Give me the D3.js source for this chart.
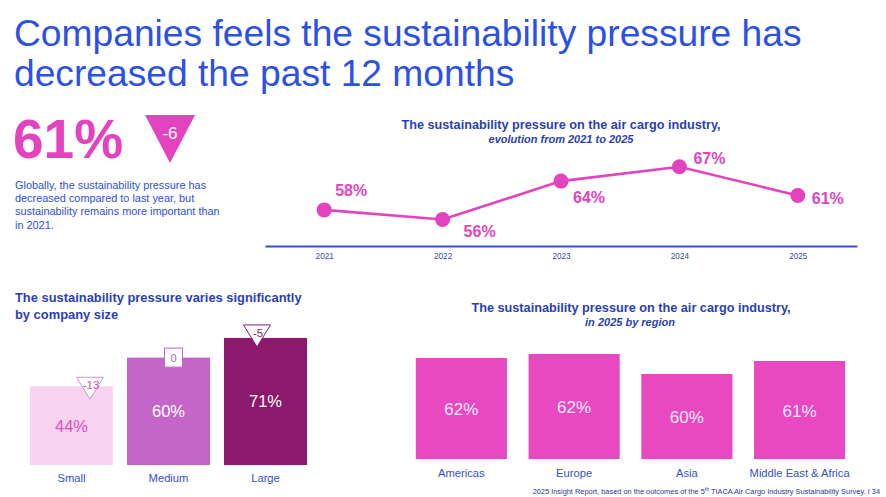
<!DOCTYPE html>
<html>
<head>
<meta charset="utf-8">
<script src="https://cdn.jsdelivr.net/npm/d3@7"></script>
<style>
  html, body { margin: 0; padding: 0; background: #ffffff; }
  svg { display: block; font-family: "Liberation Sans", Arial, Helvetica, sans-serif; }
</style>
</head>
<body>
<svg id="chart" width="886" height="497"></svg>
<script>
// ---------- DATA ----------
const titleLines = ["Companies feels the sustainability pressure has", "decreased the past 12 months"];
const headlineValue = 61;
const headlineChange = -6;
const headlineText = [
  "Globally, the sustainability pressure has",
  "decreased compared to last year, but",
  "sustainability remains more important than",
  "in 2021."
];

const years = ["2021", "2022", "2023", "2024", "2025"];
const pressureByYear = [58, 56, 64, 67, 61];

const sizeCategories = ["Small", "Medium", "Large"];
const sizeValues = [44, 60, 71];
const sizeChanges = [-13, 0, -5];

const regions = ["Americas", "Europe", "Asia", "Middle East & Africa"];
const regionValues = [61.6, 62.0, 60.0, 61.3];

// ---------- STYLE ----------
const BLUE = "#2d50e6";
const NAVY = "#2b3fb6";
const PINK = "#e443bf";
const sizeColors = ["#f8d4f1", "#c466c9", "#8b1a6c"];
const sizeLabelColors = ["#e04fb8", "#ffffff", "#ffffff"];
const badgeColors = ["#d34fb3", "#b463bd", "#8b1a6c"];
const badgeStroke = ["#c89ad3", "#c466c9", "#8b1a6c"];

const svg = d3.select("#chart");
svg.append("rect").attr("width", 886).attr("height", 497).attr("fill", "#fff");

// ---------- MAIN TITLE ----------
svg.append("g").selectAll("text").data(titleLines).join("text")
  .attr("x", 14).attr("y", (d, i) => 46 + i * 39.5)
  .attr("fill", BLUE).attr("font-size", 37.2).text(d => d);

// ---------- HEADLINE ----------
svg.append("text").attr("x", 13).attr("y", 158)
  .attr("fill", PINK).attr("font-size", 55).attr("font-weight", "bold")
  .text(headlineValue + "%");

const tri = d3.path();
tri.moveTo(145, 115); tri.lineTo(195, 115); tri.lineTo(170, 163); tri.closePath();
svg.append("path").attr("d", tri.toString()).attr("fill", PINK);
svg.append("text").attr("x", 170).attr("y", 139).attr("text-anchor", "middle")
  .attr("fill", "#fff").attr("font-size", 17).text(headlineChange);

svg.append("g").selectAll("text").data(headlineText).join("text")
  .attr("x", 15).attr("y", (d, i) => 189 + i * 13.2)
  .attr("fill", BLUE).attr("font-size", 10.9).text(d => d);

// ---------- LINE CHART ----------
const xL = d3.scalePoint().domain(years).range([265, 857]).padding(0.5);
const yL = d3.scaleLinear().domain([50, 70]).range([248.3, 152.3]);

svg.append("text").attr("x", 561).attr("y", 129).attr("text-anchor", "middle")
  .attr("fill", NAVY).attr("font-size", 12.7).attr("font-weight", "bold")
  .text("The sustainability pressure on the air cargo industry,");
svg.append("text").attr("x", 561).attr("y", 143).attr("text-anchor", "middle")
  .attr("fill", NAVY).attr("font-size", 11).attr("font-weight", "bold").attr("font-style", "italic")
  .text("evolution from 2021 to 2025");

const axisG = svg.append("g").attr("transform", "translate(0,246)")
  .call(d3.axisBottom(xL).tickSize(0).tickPadding(7));
axisG.select(".domain").attr("stroke", "#3553c8").attr("stroke-width", 2);
axisG.selectAll("text").attr("fill", "#3b4c9e").attr("font-size", 8.2)
  .attr("font-family", "Liberation Sans, Arial, sans-serif");

const lineData = years.map((y, i) => ({ year: y, value: pressureByYear[i] }));
svg.append("path").datum(lineData)
  .attr("d", d3.line().x(d => xL(d.year)).y(d => yL(d.value)))
  .attr("fill", "none").attr("stroke", PINK).attr("stroke-width", 2.6);
svg.append("g").selectAll("circle").data(lineData).join("circle")
  .attr("cx", d => xL(d.year)).attr("cy", d => yL(d.value)).attr("r", 7.5)
  .attr("fill", PINK);

// label offsets (layout)
const lblOff = [[11, -14], [21, 17], [12, 22], [14, -3], [14, 8]];
svg.append("g").selectAll("text").data(lineData).join("text")
  .attr("x", (d, i) => xL(d.year) + lblOff[i][0])
  .attr("y", (d, i) => yL(d.value) + lblOff[i][1])
  .attr("fill", PINK).attr("font-size", 16).attr("font-weight", "bold")
  .text(d => d.value + "%");

// ---------- SIZE BAR CHART ----------
svg.append("g").selectAll("text")
  .data(["The sustainability pressure varies significantly", "by company size"]).join("text")
  .attr("x", 15).attr("y", (d, i) => 302 + i * 16.5)
  .attr("fill", NAVY).attr("font-size", 12.9).attr("font-weight", "bold").text(d => d);

const xS = d3.scaleBand().domain(sizeCategories).range([23, 314]).paddingInner(0.144).paddingOuter(0.072);
const yS = d3.scaleLinear().domain([0, 100]).range([465, 286]);

const sizeData = sizeCategories.map((c, i) => ({ cat: c, value: sizeValues[i], change: sizeChanges[i], i }));
svg.append("g").selectAll("rect").data(sizeData).join("rect")
  .attr("x", d => xS(d.cat)).attr("width", xS.bandwidth())
  .attr("y", d => yS(d.value)).attr("height", d => yS(0) - yS(d.value))
  .attr("fill", d => sizeColors[d.i]);

svg.append("g").selectAll("text").data(sizeData).join("text")
  .attr("x", d => xS(d.cat) + xS.bandwidth() / 2)
  .attr("y", d => (yS(d.value) + yS(0)) / 2 + 6)
  .attr("text-anchor", "middle").attr("font-size", 16.5)
  .attr("fill", d => sizeLabelColors[d.i]).text(d => d.value + "%");

svg.append("g").selectAll("text").data(sizeData).join("text")
  .attr("x", d => xS(d.cat) + xS.bandwidth() / 2).attr("y", 482)
  .attr("text-anchor", "middle").attr("font-size", 11.2).attr("fill", "#3350d0")
  .text(d => d.cat);

// badges
const badgeDx = [18.5, 5, -8.5];
sizeData.forEach(d => {
  const cx = xS(d.cat) + xS.bandwidth() / 2 + badgeDx[d.i];
  const top = yS(d.value);
  if (d.change === 0) {
    svg.append("rect").attr("x", cx - 9).attr("y", top - 9.5).attr("width", 18).attr("height", 19)
      .attr("fill", "#fff").attr("stroke", badgeStroke[d.i]).attr("stroke-width", 1);
    svg.append("text").attr("x", cx).attr("y", top + 4).attr("text-anchor", "middle")
      .attr("font-size", 11).attr("fill", badgeColors[d.i]).text(d.change);
  } else {
    const p = d3.path();
    const t = top - (d.i === 0 ? 9 : 13);
    p.moveTo(cx - 13.5, t); p.lineTo(cx + 13.5, t); p.lineTo(cx, t + 22); p.closePath();
    svg.append("path").attr("d", p.toString()).attr("fill", "#fff")
      .attr("stroke", badgeStroke[d.i]).attr("stroke-width", 1);
    svg.append("text").attr("x", cx + 1).attr("y", t + 12).attr("text-anchor", "middle")
      .attr("font-size", 11.5).attr("fill", badgeColors[d.i]).text(d.change);
  }
});

// ---------- REGION BAR CHART ----------
svg.append("text").attr("x", 631).attr("y", 312).attr("text-anchor", "middle")
  .attr("fill", NAVY).attr("font-size", 12.7).attr("font-weight", "bold")
  .text("The sustainability pressure on the air cargo industry,");
svg.append("text").attr("x", 630).attr("y", 326).attr("text-anchor", "middle")
  .attr("fill", NAVY).attr("font-size", 11).attr("font-weight", "bold").attr("font-style", "italic")
  .text("in 2025 by region");

const xR = d3.scaleBand().domain(regions).range([405, 856]).paddingInner(0.192).paddingOuter(0.096);
const yR = d3.scaleLinear().domain([51.5, 62]).range([459, 354]);
const regionData = regions.map((r, i) => ({ region: r, value: regionValues[i] }));

svg.append("g").selectAll("rect").data(regionData).join("rect")
  .attr("x", d => xR(d.region)).attr("width", xR.bandwidth())
  .attr("y", d => yR(d.value)).attr("height", d => yR.range()[0] - yR(d.value))
  .attr("fill", "#e848c0");

svg.append("g").selectAll("text").data(regionData).join("text")
  .attr("x", d => xR(d.region) + xR.bandwidth() / 2)
  .attr("y", d => (yR(d.value) + yR.range()[0]) / 2 + 6.5)
  .attr("text-anchor", "middle").attr("font-size", 17).attr("fill", "#fde8f8")
  .text(d => d3.format(".0f")(d.value) + "%");

svg.append("g").selectAll("text").data(regionData).join("text")
  .attr("x", d => xR(d.region) + xR.bandwidth() / 2).attr("y", 477)
  .attr("text-anchor", "middle").attr("font-size", 11.2).attr("fill", "#3350d0")
  .text(d => d.region);

// ---------- FOOTER ----------
const foot = svg.append("text").attr("x", 880).attr("y", 494).attr("text-anchor", "end")
  .attr("font-size", 7.4).attr("fill", "#2a3a8c");
foot.append("tspan").text("2025 Insight Report, based on the outcomes of the 5");
foot.append("tspan").attr("font-size", 5).attr("dy", -3).text("th");
foot.append("tspan").attr("dy", 3).text(" TIACA Air Cargo Industry Sustainability Survey. I 34");
</script>
</body>
</html>
